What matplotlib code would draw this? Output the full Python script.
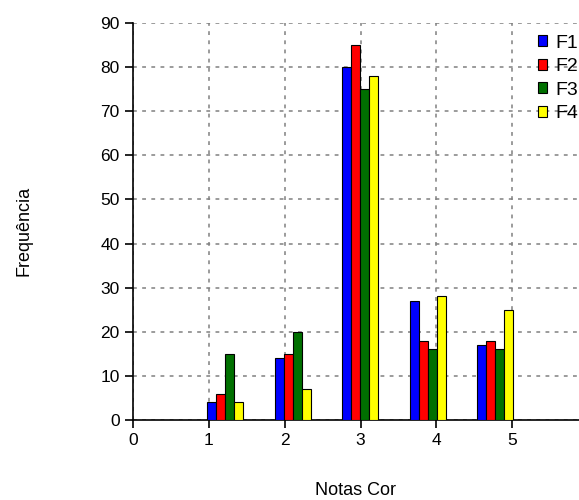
import matplotlib.pyplot as plt
import numpy as np

plt.rcParams['font.family'] = ['Liberation Sans', 'DejaVu Sans']

# Notas (categories) and frequencies per series
notas = [1, 2, 3, 4, 5]
series = ['F1', 'F2', 'F3', 'F4']
f1 = [4, 14, 80, 27, 17]
f2 = [6, 15, 85, 18, 18]
f3 = [15, 20, 75, 16, 16]
f4 = [4, 7, 78, 28, 25]

colors = ['#0000ff', '#ff0000', '#007000', '#ffff00']

fig = plt.figure(figsize=(5.79, 5.0), dpi=100)
ax = fig.add_axes([0.2297, 0.16, 0.7703, 0.794])

# bar groups drift left of the ticks, as in the original chart
width = 0.119
step = 0.89
lefts = 0.976 + step * (np.array(notas) - 1)
for k, (vals, c, name) in enumerate(zip([f1, f2, f3, f4], colors, series)):
    ax.bar(lefts + k * width, vals, width=width, align='edge', color=c,
           edgecolor='black', linewidth=0.8, label=name, zorder=3)

ax.set_xlim(0, 5.88)
ax.set_ylim(0, 90)
ax.set_xticks([0, 1, 2, 3, 4, 5])
ax.set_yticks(range(0, 91, 10))
ax.grid(True, linestyle=(0, (2.5, 3.5)), color='#808080', linewidth=1.1)
for s in ['top', 'right']:
    ax.spines[s].set_visible(False)
ax.spines['left'].set_linewidth(1.2)
ax.spines['bottom'].set_linewidth(1.2)
ax.tick_params(length=6, width=1.2, labelsize=12.5, colors='black')

ax.set_xlabel('Notas Cor', fontsize=13, labelpad=24)
ax.set_ylabel('Frequência', fontsize=13)
ax.yaxis.set_label_coords(-0.226, 0.475)

leg = ax.legend(loc='upper left', bbox_to_anchor=(0.915, 0.946),
                bbox_transform=fig.transFigure, frameon=False,
                fontsize=14, handlelength=0.5, handleheight=0.5,
                handletextpad=0.4, labelspacing=0.33, borderaxespad=0)

fig.savefig('out.png', dpi=100)
